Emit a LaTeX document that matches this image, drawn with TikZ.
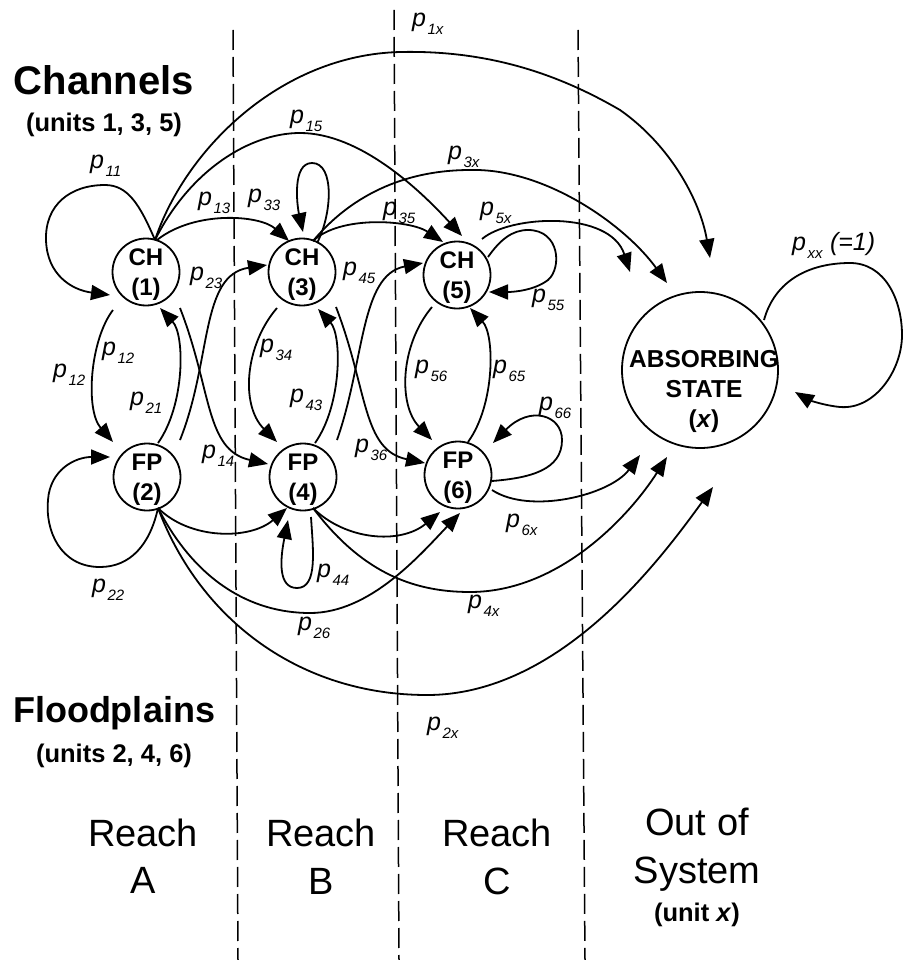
\documentclass[tikz,border=0pt]{standalone}
\usepackage{fontspec}
\setmainfont{Liberation Sans}
\usetikzlibrary{arrows.meta,calc}
\newcommand{\pp}[1]{\textit{p}\kern1.5pt\raisebox{-8pt}{\fontsize{15}{15}\selectfont\textit{#1}}}
\begin{document}
\begin{tikzpicture}[x=1pt,y=-1pt,
  st/.style={circle,draw,line width=1.8pt,minimum size=67pt,inner sep=0pt,align=center,font=\bfseries\fontsize{24}{30}\selectfont},
  arr/.style={line width=1.8pt,-{Triangle[length=19pt,width=15pt]}},
  lbl/.style={anchor=base west,inner sep=0pt,font=\fontsize{25}{25}\selectfont},
  div/.style={line width=1.5pt,dash pattern=on 20pt off 7pt},
  big/.style={anchor=base,inner sep=0pt,font=\fontsize{38}{38}\selectfont},
  unitsf/.style={anchor=base,inner sep=0pt,font=\bfseries\fontsize{25.5}{25.5}\selectfont}]
\useasboundingbox (0,0) rectangle (906,960);

% reach dividers
\draw[div] (233,30) -- (238,960);
\draw[div] (394,10) -- (399,960);
\draw[div] (578,30) -- (585,960);

% states
\node[st] (ch1) at (146,272) {\rule{0pt}{21pt}CH\\(1)};
\node[st] (ch3) at (302,272) {\rule{0pt}{21pt}CH\\(3)};
\node[st] (ch5) at (457,275) {\rule{0pt}{21pt}CH\\(5)};
\node[st] (fp2) at (147,477) {\rule{0pt}{21pt}FP\\(2)};
\node[st] (fp4) at (303,477) {\rule{0pt}{21pt}FP\\(4)};
\node[st] (fp6) at (458,475) {\rule{0pt}{21pt}FP\\(6)};
\node[circle,draw,line width=1.8pt,minimum size=156pt,inner sep=0pt] (xs) at (700,370) {};
\node[font=\bfseries\fontsize{24.5}{30}\selectfont,align=center,inner sep=0pt] (xstxt) at (704,391) {ABSORBING\\STATE\\(\textit{x})};

% channel transitions
\draw[arr] ($(ch1)+(9,-32)$) .. controls (140,205) and (128,185) .. (105,185) .. controls (70,185) and (45,205) .. (46,240) .. controls (47,275) and (72,290) .. ($(ch1)+(-36,23)$);
\draw[arr] ($(ch1)+(9,-32)$) .. controls (185,150) and (280,55) .. (400,52) .. controls (490,50) and (560,75) .. (620,110) .. controls (670,145) and (700,200) .. ($(xs)+(10,-112)$);
\draw[arr] ($(ch1)+(9,-32)$) .. controls (190,170) and (250,133) .. (300,133) .. controls (360,133) and (420,190) .. ($(ch5)+(5,-39)$);
\draw[arr] ($(ch1)+(11,-32)$) .. controls (195,210) and (260,215) .. ($(ch3)+(-13,-31)$);
\draw[arr] ($(ch3)+(15,-29)$) .. controls (332,215) and (335,163) .. (312,163) .. controls (292,163) and (297,205) .. ($(ch3)+(1,-40)$);
\draw[arr] ($(ch3)+(11,-31)$) .. controls (340,215) and (410,220) .. ($(ch5)+(-14,-33)$);
\draw[arr] ($(ch3)+(11,-31)$) .. controls (360,185) and (420,170) .. (470,170) .. controls (545,168) and (625,225) .. ($(xs)+(-33,-87)$);
\draw[arr] ($(ch5)+(25,-36)$) .. controls (510,215) and (610,210) .. ($(xs)+(-70,-98)$);
\draw[arr] ($(ch5)+(31,-18)$) .. controls (500,240) and (512,230) .. (528,230) .. controls (560,230) and (562,268) .. (548,280) .. controls (535,290) and (515,292) .. ($(ch5)+(32,17)$);

% channel <-> floodplain
\draw[arr] ($(ch1)+(-33,38)$) .. controls (90,340) and (85,410) .. ($(fp2)+(-34,-35)$);
\draw[arr] ($(fp2)+(11,-34)$) .. controls (185,405) and (185,335) .. ($(ch1)+(14,36)$);
\draw[arr] ($(ch1)+(34,36)$) .. controls (212,390) and (205,450) .. ($(fp4)+(-35,-13)$);
\draw[arr] ($(fp2)+(33,-37)$) .. controls (212,360) and (200,275) .. ($(ch3)+(-35,-7)$);
\draw[arr] ($(ch3)+(-25,36)$) .. controls (245,345) and (240,405) .. ($(fp4)+(-26,-35)$);
\draw[arr] ($(fp4)+(12,-34)$) .. controls (342,405) and (342,335) .. ($(ch3)+(16,37)$);
\draw[arr] ($(fp4)+(34,-37)$) .. controls (365,360) and (360,275) .. ($(ch5)+(-34,-12)$);
\draw[arr] ($(ch3)+(34,35)$) .. controls (368,390) and (362,450) .. ($(fp6)+(-33,-12)$);
\draw[arr] ($(ch5)+(-25,32)$) .. controls (400,345) and (398,405) .. ($(fp6)+(-26,-35)$);
\draw[arr] ($(fp6)+(10,-33)$) .. controls (495,405) and (495,335) .. ($(ch5)+(13,33)$);

% floodplain transitions
\draw[arr] ($(fp6)+(34,6)$) .. controls (530,478) and (562,470) .. (562,440) .. controls (562,415) and (530,405) .. ($(fp6)+(35,-32)$);
\draw[arr] ($(fp6)+(34,15)$) .. controls (530,515) and (610,495) .. ($(xs)+(-60,85)$);
\draw[arr] ($(fp2)+(11,31)$) .. controls (190,540) and (250,540) .. ($(fp4)+(-16,31)$);
\draw[arr] ($(fp2)+(11,31)$) .. controls (195,580) and (250,613) .. (310,613) .. controls (370,613) and (420,555) .. ($(fp6)+(2,38)$);
\draw[arr] ($(fp2)+(11,31)$) .. controls (200,620) and (300,695) .. (427,695) .. controls (560,695) and (660,560) .. ($(xs)+(13,117)$);
\draw[arr] ($(fp4)+(10,31)$) .. controls (345,540) and (400,545) .. ($(fp6)+(-18,37)$);
\draw[arr] ($(fp4)+(10,31)$) .. controls (360,570) and (410,592) .. (470,592) .. controls (560,592) and (630,515) .. ($(xs)+(-33,87)$);
\draw[arr] ($(fp4)+(8,40)$) .. controls (313,550) and (318,588) .. (297,588) .. controls (278,588) and (280,560) .. ($(fp4)+(-15,43)$);
\draw[arr] ($(fp2)+(11,31)$) .. controls (150,545) and (130,567) .. (100,567) .. controls (60,567) and (45,530) .. (48,500) .. controls (50,470) and (75,457) .. ($(fp2)+(-37,-20)$);
\draw[arr] ($(xs)+(64,-50)$) .. controls (775,280) and (810,263) .. (850,263) .. controls (885,263) and (902,300) .. (902,335) .. controls (902,370) and (875,410) .. (840,407) .. controls (820,405) and (805,398) .. ($(xs)+(95,22)$);

% transition labels
\node[lbl] (l11) at (90,168) {\pp{11}};
\node[lbl] (l15) at (290,124) {\pp{15}};
\node[lbl] (l13) at (198,205) {\pp{13}};
\node[lbl] (l33) at (248,202) {\pp{33}};
\node[lbl] (l23) at (190,280) {\pp{23}};
\node[lbl] (l45) at (343,275) {\pp{45}};
\node[lbl] (l35) at (383,215) {\pp{35}};
\node[lbl] (l1x) at (412,27) {\pp{1x}};
\node[lbl] (l3x) at (448,160) {\pp{3x}};
\node[lbl] (l5x) at (480,215) {\pp{5x}};
\node[lbl] (l55) at (532,302) {\pp{55}};
\node[lbl] (lxx) at (792,250) {\pp{xx}\ \textit{(=1)}};
\node[lbl] (l12a) at (53,377) {\pp{12}};
\node[lbl] (l12b) at (102,355) {\pp{12}};
\node[lbl] (l21) at (130,405) {\pp{21}};
\node[lbl] (l14) at (202,458) {\pp{14}};
\node[lbl] (l34) at (260,352) {\pp{34}};
\node[lbl] (l43) at (290,402) {\pp{43}};
\node[lbl] (l36) at (355,452) {\pp{36}};
\node[lbl] (l56) at (415,373) {\pp{56}};
\node[lbl] (l22) at (92,592) {\pp{22}};
\node[lbl] (l44) at (317,577) {\pp{44}};
\node[lbl] (l26) at (298,630) {\pp{26}};
\node[lbl] (l65) at (493,373) {\pp{65}};
\node[lbl] (l66) at (539,410) {\pp{66}};
\node[lbl] (l6x) at (506,527) {\pp{6x}};
\node[lbl] (l4x) at (468,608) {\pp{4x}};
\node[lbl] (l2x) at (427,730) {\pp{2x}};

% headings
\node[anchor=base,inner sep=0pt,font=\bfseries\fontsize{40}{40}\selectfont] (chan) at (104,95) {Channels};
\node[unitsf] (chanu) at (104,132) {(units 1, 3, 5)};
\node[anchor=base,inner sep=0pt,font=\bfseries\fontsize{36}{36}\selectfont] (flood) at (114,722) {Floodplains};
\node[unitsf] (floodu) at (114,762) {(units 2, 4, 6)};

\node[big] (ra1) at (143,846) {Reach};
\node[big] (ra2) at (143,893) {A};
\node[big] (rb1) at (321,846) {Reach};
\node[big] (rb2) at (321,894) {B};
\node[big] (rc1) at (497,846) {Reach};
\node[big] (rc2) at (497,894) {C};
\node[big] (os1) at (697,835) {Out of};
\node[big] (os2) at (697,883) {System};
\node[unitsf] (os3) at (697,921) {(unit \textit{x})};
\end{tikzpicture}
\end{document}
